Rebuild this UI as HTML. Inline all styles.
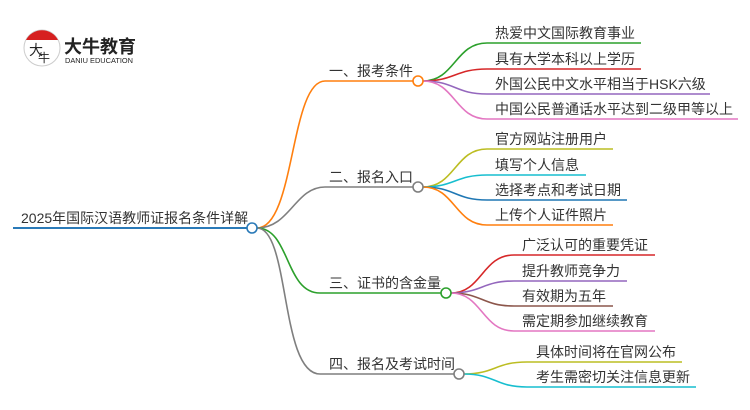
<!DOCTYPE html>
<html><head><meta charset="utf-8"><style>
html,body{margin:0;padding:0;background:#fff;}
svg{display:block;}
text{font-family:"Liberation Sans","Noto Sans CJK SC",sans-serif;fill:#333;}
</style></head><body>
<svg width="750" height="410" viewBox="0 0 750 410" xmlns="http://www.w3.org/2000/svg">
<!-- logo -->
<circle cx="42" cy="48" r="18" fill="#fff" stroke="#ccc" stroke-width="1"/>
<path d="M26,40 A18,18 0 0 1 58,40 Z" fill="#d62020"/>
<text x="29" y="55" font-size="14" style="fill:#222">大</text>
<text x="38" y="62" font-size="12" style="fill:#222">牛</text>
<text x="64" y="53" font-size="18" font-weight="bold" style="fill:#222">大牛教育</text>
<text x="65" y="63" font-size="7" textLength="68" lengthAdjust="spacingAndGlyphs" style="fill:#222">DANIU EDUCATION</text>

<g fill="none" stroke-width="1.6">
<line x1="13" y1="228" x2="247" y2="228" stroke="#2a7ab8" stroke-width="2"/>
<path d="M257,228 C295,228 290,81 325,81 L413,81" stroke="#ff7f0e"/>
<path d="M257,228 C290,228 295,187 325,187 L413,187" stroke="#7f7f7f"/>
<path d="M257,228 C290,228 285,293 320,293 L441,293" stroke="#2ca02c"/>
<path d="M257,228 C290,228 280,374 320,374 L454,374" stroke="#7f7f7f"/>
<path d="M423,81 C455,81 455,43 487,43 L641,43" stroke="#2ca02c"/>
<path d="M423,81 C455,81 455,69 487,69 L641,69" stroke="#d62728"/>
<path d="M423,81 C455,81 455,94 487,94 L710,94" stroke="#9467bd"/>
<path d="M423,81 C455,81 455,119 487,119 L738,119" stroke="#e377c2"/>
<path d="M423,187 C455,187 455,149 487,149 L613,149" stroke="#bcbd22"/>
<path d="M423,187 C455,187 455,175 487,175 L586,175" stroke="#17becf"/>
<path d="M423,187 C455,187 455,200 487,200 L627,200" stroke="#1f77b4"/>
<path d="M423,187 C455,187 455,225 487,225 L613,225" stroke="#ff7f0e"/>
<path d="M451,293 C482,293 482,255 514,255 L655,255" stroke="#d62728"/>
<path d="M451,293 C482,293 482,281 514,281 L627,281" stroke="#9467bd"/>
<path d="M451,293 C482,293 482,306 514,306 L613,306" stroke="#8c564b"/>
<path d="M451,293 C482,293 482,331 514,331 L655,331" stroke="#e377c2"/>
<path d="M464,374 C495,374 495,362 527,362 L682,362" stroke="#bcbd22"/>
<path d="M464,374 C495,374 495,387 527,387 L696,387" stroke="#17becf"/>
</g>
<circle cx="252" cy="228" r="5" fill="#fff" stroke="#2a7ab8" stroke-width="1.6"/>
<circle cx="418" cy="81" r="5" fill="#fff" stroke="#ff7f0e" stroke-width="1.6"/>
<circle cx="418" cy="187" r="5" fill="#fff" stroke="#7f7f7f" stroke-width="1.6"/>
<circle cx="446" cy="293" r="5" fill="#fff" stroke="#2ca02c" stroke-width="1.6"/>
<circle cx="459" cy="374" r="5" fill="#fff" stroke="#7f7f7f" stroke-width="1.6"/>

<g font-size="14">
<text x="21" y="223">2025年国际汉语教师证报名条件详解</text>
<text x="329" y="76">一、报考条件</text>
<text x="329" y="182">二、报名入口</text>
<text x="329" y="288">三、证书的含金量</text>
<text x="329" y="369">四、报名及考试时间</text>

<text x="495" y="38">热爱中文国际教育事业</text>
<text x="495" y="64">具有大学本科以上学历</text>
<text x="495" y="89">外国公民中文水平相当于HSK六级</text>
<text x="495" y="114">中国公民普通话水平达到二级甲等以上</text>

<text x="495" y="144">官方网站注册用户</text>
<text x="495" y="170">填写个人信息</text>
<text x="495" y="195">选择考点和考试日期</text>
<text x="495" y="220">上传个人证件照片</text>

<text x="522" y="250">广泛认可的重要凭证</text>
<text x="522" y="276">提升教师竞争力</text>
<text x="522" y="301">有效期为五年</text>
<text x="522" y="326">需定期参加继续教育</text>

<text x="536" y="357">具体时间将在官网公布</text>
<text x="536" y="382">考生需密切关注信息更新</text>
</g>
</svg>
</body></html>
